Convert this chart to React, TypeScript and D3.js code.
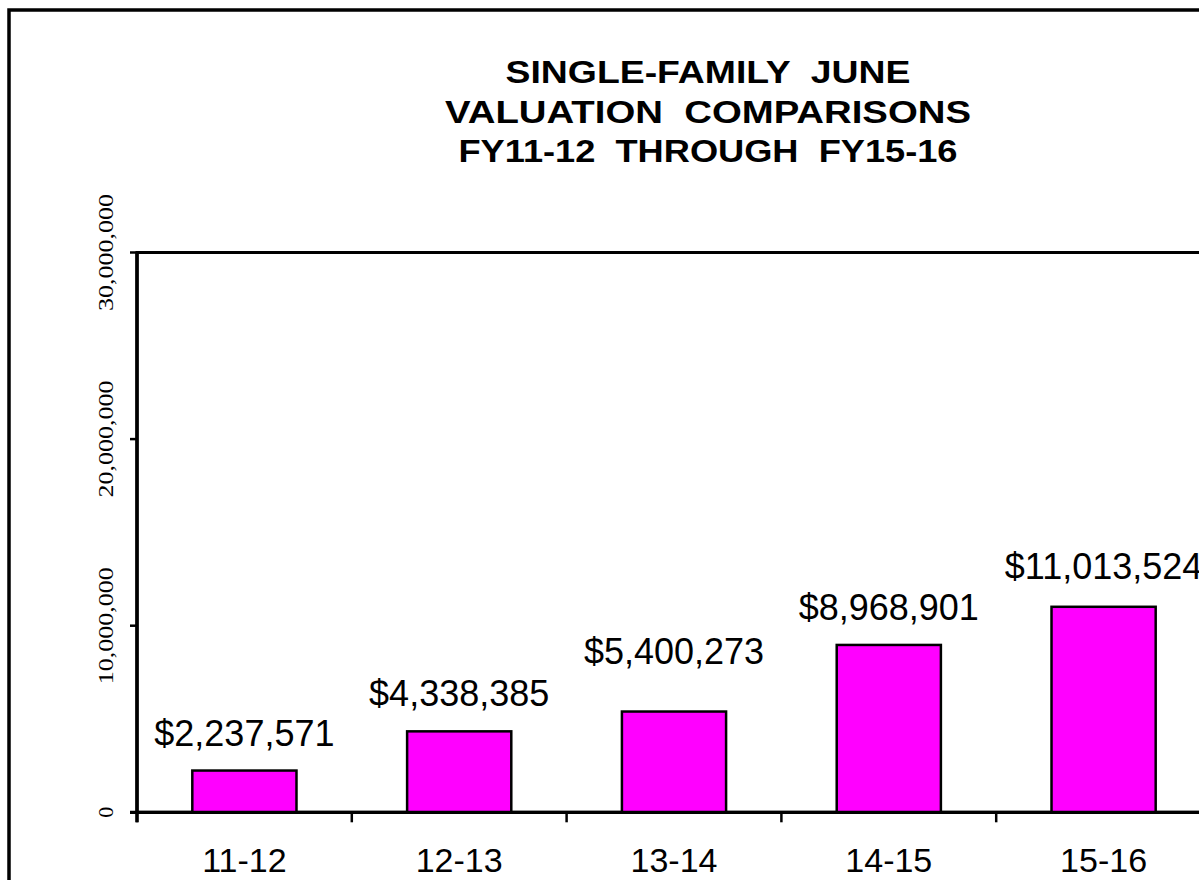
import React from "react";
import * as d3 from "d3";

const categories = ["11-12", "12-13", "13-14", "14-15", "15-16"];
const values = [2237571, 4338385, 5400273, 8968901, 11013524];
const yTicks = [0, 10000000, 20000000, 30000000];
const titleLines = [
  "SINGLE-FAMILY  JUNE",
  "VALUATION  COMPARISONS",
  "FY11-12  THROUGH  FY15-16",
];

// layout: gap between bar top and its value label baseline (px)
const labelGaps = [25, 25, 48, 25, 28];

const W = 1199;
const H = 880;
const plot = { left: 137, right: 1211, top: 252.5, bottom: 812.3 };

export default function App() {
  const x = d3
    .scaleBand<string>()
    .domain(categories)
    .range([plot.left, plot.right])
    .paddingInner(0.515)
    .paddingOuter(0.2575);
  const y = d3.scaleLinear().domain([0, 30000000]).range([plot.bottom, plot.top]);
  const step = x.step();
  const boundaries = d3.range(categories.length + 1).map((i) => plot.left + i * step);
  const fmtTick = d3.format(",");
  const fmtVal = (v: number) => "$" + d3.format(",")(v);
  const titleWidths = [405, 526, 499];

  return (
    <svg
      width={W}
      height={H}
      style={{ position: "absolute", left: 0, top: 0, background: "#fff" }}
    >
      <rect x={0} y={0} width={W} height={H} fill="#fff" />
      {/* outer chart border */}
      <rect x={9} y={10} width={W + 100} height={H + 100} fill="none" stroke="#000" strokeWidth={3.5} />

      {/* title */}
      {titleLines.map((t, i) => (
        <text
          key={t}
          x={708}
          y={83 + i * 39.5}
          textAnchor="middle"
          fontFamily="Arial, 'Liberation Sans', sans-serif"
          fontWeight="bold"
          fontSize={32}
          textLength={titleWidths[i]}
          lengthAdjust="spacingAndGlyphs"
          style={{ whiteSpace: "pre" }}
          fill="#000"
        >
          {t}
        </text>
      ))}

      {/* plot frame */}
      <rect
        x={plot.left}
        y={plot.top}
        width={plot.right - plot.left}
        height={plot.bottom - plot.top}
        fill="none"
        stroke="#000"
        strokeWidth={3}
      />

      {/* bars */}
      {values.map((v, i) => (
        <rect
          key={categories[i]}
          x={x(categories[i])}
          y={y(v)}
          width={x.bandwidth()}
          height={y(0) - y(v)}
          fill="#FF00FF"
          stroke="#000"
          strokeWidth={2.5}
        />
      ))}

      {/* axes lines */}
      <line x1={plot.left} x2={plot.left} y1={plot.top} y2={plot.bottom + 10} stroke="#000" strokeWidth={3.5} />
      <line x1={plot.left - 7} x2={plot.right} y1={plot.bottom} y2={plot.bottom} stroke="#000" strokeWidth={3.2} />

      {/* y ticks */}
      {yTicks.map((t) => (
        <g key={t}>
          <line x1={plot.left - 7} x2={plot.left} y1={y(t)} y2={y(t)} stroke="#000" strokeWidth={2.5} />
          <text
            transform={`translate(113,${y(t)}) rotate(-90)`}
            textAnchor="middle"
            fontFamily="'Times New Roman', 'Liberation Serif', serif"
            fontSize={22}
            textLength={t === 0 ? undefined : 117}
            lengthAdjust="spacingAndGlyphs"
            fill="#000"
          >
            {fmtTick(t)}
          </text>
        </g>
      ))}

      {/* x ticks */}
      {boundaries.map((bx, i) => (
        <line key={i} x1={bx} x2={bx} y1={plot.bottom} y2={plot.bottom + 10} stroke="#000" strokeWidth={2.5} />
      ))}

      {/* category labels */}
      {categories.map((c) => (
        <text
          key={c}
          x={(x(c) as number) + x.bandwidth() / 2}
          y={872}
          textAnchor="middle"
          fontFamily="Arial, 'Liberation Sans', sans-serif"
          fontSize={34}
          fill="#000"
        >
          {c}
        </text>
      ))}

      {/* value labels */}
      {values.map((v, i) => (
        <text
          key={"v" + i}
          x={(x(categories[i]) as number) + x.bandwidth() / 2}
          y={y(v) - labelGaps[i]}
          textAnchor="middle"
          fontFamily="Arial, 'Liberation Sans', sans-serif"
          fontSize={36}
          fill="#000"
        >
          {fmtVal(v)}
        </text>
      ))}
    </svg>
  );
}
